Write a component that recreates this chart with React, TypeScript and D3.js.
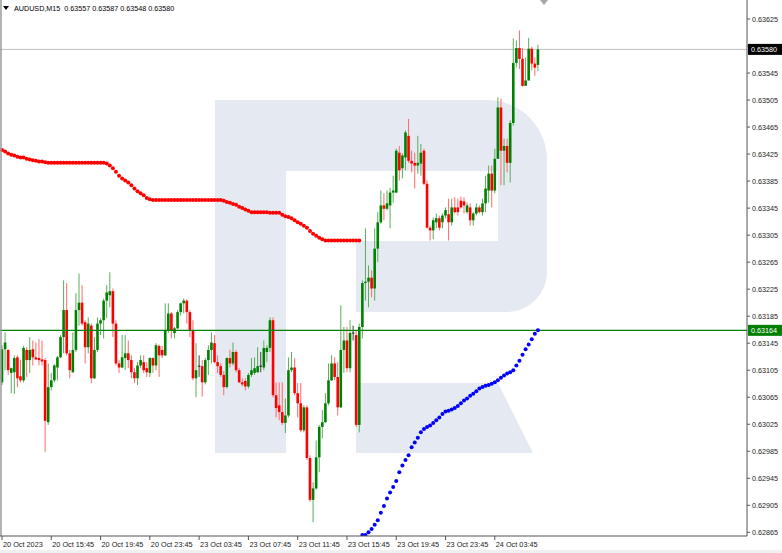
import React from 'react';
import * as d3 from 'd3';

// ---- data (AUDUSD M15) ----
const openP = [0.63087,0.63136,0.63135,0.63101,0.63102,0.63124,0.63096,0.63090,0.63135,0.63120,0.63136,0.63124,0.63123,0.63121,0.63120,0.63028,0.63080,0.63090,0.63109,0.63124,0.63154,0.63194,0.63130,0.63102,0.63135,0.63194,0.63205,0.63176,0.63139,0.63171,0.63093,0.63135,0.63174,0.63179,0.63208,0.63216,0.63222,0.63174,0.63115,0.63109,0.63123,0.63130,0.63120,0.63102,0.63093,0.63112,0.63117,0.63108,0.63101,0.63123,0.63112,0.63141,0.63135,0.63127,0.63164,0.63189,0.63160,0.63167,0.63191,0.63204,0.63208,0.63191,0.63164,0.63093,0.63111,0.63111,0.63087,0.63120,0.63135,0.63145,0.63117,0.63111,0.63098,0.63080,0.63123,0.63115,0.63132,0.63105,0.63087,0.63089,0.63081,0.63098,0.63101,0.63102,0.63111,0.63109,0.63132,0.63138,0.63179,0.63068,0.63053,0.63043,0.63027,0.63038,0.63105,0.63109,0.63071,0.63056,0.63016,0.63050,0.62975,0.62913,0.62930,0.62976,0.63021,0.63028,0.63056,0.63090,0.63115,0.63095,0.63050,0.63135,0.63149,0.63108,0.63160,0.63157,0.63024,0.63169,0.63234,0.63236,0.63242,0.63226,0.63285,0.63324,0.63349,0.63344,0.63349,0.63368,0.63368,0.63427,0.63404,0.63420,0.63452,0.63415,0.63412,0.63408,0.63411,0.63430,0.63381,0.63316,0.63312,0.63324,0.63330,0.63324,0.63334,0.63336,0.63324,0.63346,0.63346,0.63356,0.63355,0.63339,0.63346,0.63327,0.63337,0.63346,0.63339,0.63352,0.63371,0.63396,0.63371,0.63418,0.63494,0.63430,0.63437,0.63412,0.63471,0.63560,0.63582,0.63566,0.63526,0.63534,0.63581,0.63559,0.63557];
const highP = [0.63142,0.63161,0.63136,0.63109,0.63127,0.63127,0.63120,0.63141,0.63139,0.63154,0.63149,0.63146,0.63151,0.63149,0.63123,0.63115,0.63101,0.63114,0.63126,0.63157,0.63238,0.63234,0.63135,0.63161,0.63219,0.63248,0.63231,0.63179,0.63183,0.63174,0.63154,0.63183,0.63182,0.63211,0.63231,0.63250,0.63226,0.63179,0.63120,0.63157,0.63157,0.63149,0.63127,0.63108,0.63117,0.63127,0.63127,0.63117,0.63124,0.63124,0.63145,0.63143,0.63141,0.63204,0.63204,0.63191,0.63169,0.63194,0.63205,0.63211,0.63210,0.63194,0.63179,0.63145,0.63127,0.63120,0.63123,0.63142,0.63161,0.63157,0.63127,0.63115,0.63104,0.63124,0.63135,0.63146,0.63135,0.63108,0.63093,0.63093,0.63101,0.63123,0.63124,0.63139,0.63132,0.63149,0.63142,0.63183,0.63183,0.63087,0.63087,0.63087,0.63063,0.63124,0.63132,0.63123,0.63086,0.63086,0.63053,0.63053,0.62979,0.62939,0.63001,0.63024,0.63046,0.63071,0.63115,0.63127,0.63124,0.63117,0.63201,0.63169,0.63169,0.63179,0.63171,0.63164,0.63174,0.63238,0.63315,0.63260,0.63253,0.63315,0.63339,0.63371,0.63367,0.63371,0.63375,0.63393,0.63433,0.63437,0.63426,0.63460,0.63477,0.63430,0.63427,0.63452,0.63440,0.63433,0.63386,0.63319,0.63331,0.63337,0.63334,0.63337,0.63346,0.63359,0.63359,0.63361,0.63359,0.63362,0.63361,0.63353,0.63352,0.63339,0.63352,0.63349,0.63359,0.63393,0.63408,0.63408,0.63433,0.63509,0.63507,0.63448,0.63448,0.63475,0.63596,0.63593,0.63608,0.63582,0.63568,0.63597,0.63584,0.63568,0.63587];
const lowP = [0.63083,0.63105,0.63098,0.63071,0.63070,0.63080,0.63087,0.63087,0.63095,0.63101,0.63112,0.63120,0.63112,0.63112,0.62984,0.63024,0.63075,0.63087,0.63090,0.63123,0.63130,0.63127,0.63093,0.63101,0.63132,0.63171,0.63171,0.63115,0.63130,0.63086,0.63092,0.63132,0.63157,0.63152,0.63182,0.63198,0.63154,0.63112,0.63101,0.63108,0.63105,0.63108,0.63093,0.63086,0.63083,0.63108,0.63101,0.63095,0.63095,0.63101,0.63105,0.63095,0.63123,0.63126,0.63160,0.63152,0.63152,0.63166,0.63186,0.63189,0.63174,0.63154,0.63090,0.63065,0.63095,0.63066,0.63084,0.63098,0.63115,0.63115,0.63101,0.63095,0.63068,0.63078,0.63109,0.63112,0.63102,0.63086,0.63081,0.63075,0.63078,0.63095,0.63098,0.63101,0.63102,0.63105,0.63117,0.63132,0.63065,0.63035,0.63031,0.63024,0.63012,0.63035,0.63102,0.63068,0.63035,0.63013,0.63013,0.62972,0.62910,0.62880,0.62928,0.62954,0.63004,0.63027,0.63053,0.63089,0.63090,0.63038,0.63049,0.63101,0.63102,0.63102,0.63149,0.63021,0.63013,0.63152,0.63208,0.63198,0.63213,0.63208,0.63265,0.63322,0.63327,0.63342,0.63315,0.63353,0.63367,0.63386,0.63389,0.63401,0.63412,0.63398,0.63374,0.63396,0.63393,0.63379,0.63315,0.63297,0.63299,0.63315,0.63312,0.63315,0.63330,0.63297,0.63319,0.63337,0.63334,0.63344,0.63337,0.63337,0.63319,0.63319,0.63334,0.63337,0.63334,0.63339,0.63353,0.63346,0.63367,0.63418,0.63379,0.63379,0.63398,0.63383,0.63467,0.63553,0.63551,0.63525,0.63526,0.63534,0.63549,0.63541,0.63548];
const closeP = [0.63136,0.63146,0.63105,0.63108,0.63123,0.63093,0.63090,0.63138,0.63120,0.63135,0.63124,0.63121,0.63120,0.63118,0.63030,0.63080,0.63090,0.63112,0.63124,0.63154,0.63194,0.63130,0.63105,0.63135,0.63194,0.63205,0.63174,0.63139,0.63174,0.63093,0.63135,0.63174,0.63179,0.63208,0.63220,0.63222,0.63174,0.63115,0.63109,0.63124,0.63130,0.63120,0.63102,0.63093,0.63112,0.63120,0.63105,0.63102,0.63123,0.63112,0.63142,0.63127,0.63127,0.63164,0.63189,0.63164,0.63167,0.63191,0.63204,0.63208,0.63191,0.63164,0.63093,0.63105,0.63111,0.63087,0.63120,0.63135,0.63146,0.63117,0.63111,0.63098,0.63080,0.63123,0.63115,0.63132,0.63105,0.63087,0.63084,0.63081,0.63098,0.63105,0.63108,0.63111,0.63111,0.63138,0.63138,0.63179,0.63068,0.63049,0.63043,0.63027,0.63038,0.63105,0.63109,0.63071,0.63056,0.63016,0.63050,0.62975,0.62913,0.62930,0.62976,0.63021,0.63028,0.63056,0.63090,0.63115,0.63095,0.63050,0.63135,0.63149,0.63108,0.63160,0.63160,0.63024,0.63169,0.63234,0.63236,0.63242,0.63226,0.63285,0.63324,0.63349,0.63344,0.63352,0.63368,0.63371,0.63430,0.63401,0.63423,0.63457,0.63415,0.63411,0.63408,0.63412,0.63427,0.63381,0.63316,0.63312,0.63327,0.63330,0.63316,0.63334,0.63342,0.63324,0.63346,0.63339,0.63339,0.63346,0.63349,0.63349,0.63327,0.63337,0.63346,0.63339,0.63352,0.63374,0.63396,0.63371,0.63418,0.63494,0.63430,0.63437,0.63412,0.63471,0.63560,0.63582,0.63566,0.63526,0.63534,0.63581,0.63559,0.63553,0.63580];

// indicator dots (upper, red) for bars 0..116
const redDots = [0.63431,0.63429,0.63426,0.63424,0.63423,0.63421,0.63420,0.63420,0.63418,0.63417,0.63416,0.63415,0.63414,0.63414,0.63413,
  0.63412,0.63412,0.63412,0.63412,0.63412,0.63412,0.63412,0.63412,0.63412,0.63412,0.63412,0.63412,0.63412,0.63412,0.63412,0.63412,0.63412,0.63412,0.63412,
  0.63411,0.63408,0.63404,0.63399,0.63393,0.63389,0.63386,0.63383,0.63379,0.63374,0.63370,0.63367,0.63364,0.63360,0.63358,
  0.63357,0.63357,0.63357,0.63357,0.63357,0.63357,0.63357,0.63357,0.63357,0.63357,0.63357,0.63357,0.63357,0.63357,0.63357,0.63357,0.63357,0.63357,0.63357,0.63357,0.63357,0.63357,0.63357,
  0.63356,0.63354,0.63353,0.63351,0.63350,0.63347,0.63345,0.63343,0.63341,
  0.63339,0.63339,0.63339,0.63339,0.63339,0.63339,
  0.63338,0.63338,0.63338,0.63338,
  0.63335,0.63333,0.63332,0.63330,0.63327,0.63324,0.63322,0.63319,0.63316,0.63311,0.63307,0.63304,0.63301,0.63299,
  0.63297,0.63297,0.63297,0.63297,0.63297,0.63297,0.63297,0.63297,0.63297,0.63297,0.63297,0.63297];
// indicator dots (lower, blue) for bars 117..174
const blueStart = 117;
const blueDots = [0.62861,0.62861,0.62865,0.62870,0.62876,0.62883,0.62894,0.62904,0.62915,0.62924,0.62932,0.62941,0.62954,0.62964,0.62972,0.62979,0.62991,0.62998,0.63005,0.63013,0.63018,0.63021,0.63023,0.63027,0.63031,0.63035,0.63040,0.63044,0.63045,0.63047,0.63049,0.63052,0.63056,0.63060,0.63063,0.63067,0.63070,0.63074,0.63078,0.63080,0.63082,0.63083,0.63085,0.63087,0.63090,0.63094,0.63097,0.63100,0.63102,0.63105,0.63112,0.63119,0.63128,0.63136,0.63143,0.63151,0.63159,0.63164];

const levelPrice = 0.63164;
const bidPrice = 0.63580;
const timeLabels = ['20 Oct 2023','20 Oct 15:45','20 Oct 19:45','20 Oct 23:45','23 Oct 03:45','23 Oct 07:45','23 Oct 11:45','23 Oct 15:45','23 Oct 19:45','23 Oct 23:45','24 Oct 03:45'];
const timeLabelBars = [0,16,32,48,64,80,96,112,128,144,160];
const priceTicks = d3.range(20).map(k => +(0.62865 + k * 0.0004).toFixed(5));
const header = 'AUDUSD,M15  0.63557 0.63587 0.63548 0.63580';

const FONT = "'Liberation Sans', Arial, sans-serif";

export default function App() {
  const W = 782, H = 553;
  const plotRight = 747, plotBottom = 536;
  const n = closeP.length;
  const x = d3.scaleLinear().domain([0, n - 1]).range([2, 2 + 3.08 * (n - 1)]);
  const y = d3.scaleLinear().domain([0.62865, 0.63625]).range([532.3, 19]);
  const bw = 2.6;
  const green = '#008000', red = '#ff0000';

  const candles = closeP.map((c, i) => {
    const o = openP[i], h = highP[i], l = lowP[i];
    const cx = x(i);
    const doji = Math.abs(c - o) < 0.000005;
    const up = c > o;
    const col = doji ? '#222' : up ? green : red;
    const wcol = doji ? '#444' : up ? '#5aad5a' : '#ff6a6a';
    const yt = y(Math.max(o, c)), yb = y(Math.min(o, c));
    return (
      <g key={i}>
        <line x1={cx} x2={cx} y1={y(h)} y2={y(l)} stroke={wcol} strokeWidth={1} />
        {doji ? (
          <line x1={cx - bw / 2} x2={cx + bw / 2} y1={yt} y2={yt} stroke={col} strokeWidth={1} />
        ) : (
          <rect x={cx - bw / 2} y={yt} width={bw} height={Math.max(1, yb - yt)} fill={col} />
        )}
      </g>
    );
  });

  const wm = '#e4e9f2';

  return (
    <svg width={W} height={H} style={{ position: 'absolute', left: 0, top: 0, display: 'block', background: '#fff' }}>
      <defs>
        <clipPath id="plot"><rect x={0} y={0} width={plotRight} height={plotBottom} /></clipPath>
      </defs>
      <rect x={0} y={0} width={W} height={H} fill="#fff" />
      <rect x={0} y={550} width={W} height={3} fill="#f0f0f0" />
      {/* watermark */}
      <g fill={wm}>
        <rect x={215} y={100} width={71} height={353} />
        <path d="M215,100 H487 A60,60 0 0 1 547,160 V272 A40,40 0 0 1 507,312 H356 V241 H498 V171 H215 Z" />
        <path d="M356,383 H498 L533,453 H356 Z" />
      </g>
      <g clipPath="url(#plot)">
        <line x1={0} x2={plotRight} y1={y(bidPrice)} y2={y(bidPrice)} stroke="#c0c0c0" strokeWidth={1} />
        {redDots.map((v, i) => (
          <circle key={'r' + i} cx={x(i)} cy={y(v)} r={2} fill={red} />
        ))}
        {candles}
        <line x1={0} x2={plotRight} y1={y(levelPrice)} y2={y(levelPrice)} stroke={green} strokeWidth={1.4} />
        {blueDots.map((v, i) => (
          <circle key={'b' + i} cx={x(blueStart + i)} cy={y(v)} r={2} fill="#0000ff" />
        ))}
      </g>
      {/* frame */}
      <line x1={1} x2={1} y1={0} y2={plotBottom} stroke="#9a9a9a" strokeWidth={1.5} />
      <line x1={0} x2={plotRight} y1={plotBottom} y2={plotBottom} stroke="#555" strokeWidth={1} />
      <line x1={plotRight} x2={plotRight} y1={0} y2={plotBottom} stroke="#555" strokeWidth={1} />
      <path d="M540,0 L548,0 L544,5 Z" fill="#a8a8a8" />
      {/* right axis */}
      {priceTicks.map((p) => (
        <g key={p}>
          <line x1={plotRight} x2={plotRight + 3} y1={y(p)} y2={y(p)} stroke="#555" />
          <text x={752} y={y(p)} dy="0.35em" fontSize={7.2} fontFamily={FONT} fill="#222">{p.toFixed(5)}</text>
        </g>
      ))}
      <rect x={748} y={y(bidPrice) - 5.5} width={34} height={11} fill="#000" />
      <text x={751} y={y(bidPrice)} dy="0.35em" fontSize={7.2} fontFamily={FONT} fill="#fff">{bidPrice.toFixed(5)}</text>
      <rect x={748} y={y(levelPrice) - 5.5} width={34} height={11} fill={green} />
      <text x={751} y={y(levelPrice)} dy="0.35em" fontSize={7.2} fontFamily={FONT} fill="#fff">{levelPrice.toFixed(5)}</text>
      {/* bottom axis */}
      {timeLabels.map((t, k) => (
        <g key={t}>
          <line x1={x(timeLabelBars[k])} x2={x(timeLabelBars[k])} y1={plotBottom} y2={plotBottom + 4} stroke="#555" />
          <text x={x(timeLabelBars[k]) + 1} y={547} fontSize={7.3} fontFamily={FONT} fill="#222">{t}</text>
        </g>
      ))}
      {/* header */}
      <path d="M3,6 L9,6 L6,10 Z" fill="#000" />
      <text x={14} y={11} fontSize={7.2} fontFamily={FONT} fill="#000" style={{ whiteSpace: 'pre' }}>{header}</text>
    </svg>
  );
}
